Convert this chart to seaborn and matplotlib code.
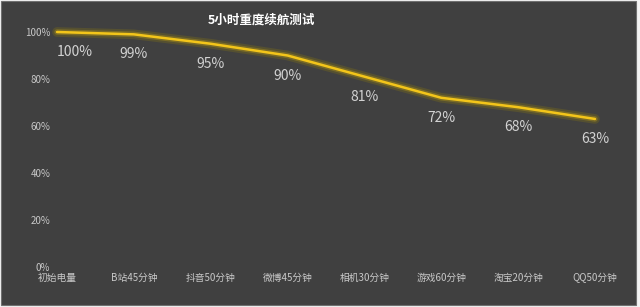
import numpy as np
import pandas as pd
import matplotlib
matplotlib.use("Agg")
import matplotlib.pyplot as plt
from matplotlib.patches import Rectangle
import seaborn as sns

# ---- data ----
stages = ["初始电量", "B站45分钟", "抖音50分钟", "微博45分钟", "相机30分钟", "游戏60分钟", "淘宝20分钟", "QQ50分钟"]
battery = [1.00, 0.99, 0.95, 0.90, 0.81, 0.72, 0.68, 0.63]
point_labels = ["100%", "99%", "95%", "90%", "81%", "72%", "68%", "63%"]
y_ticks = [0.0, 0.2, 0.4, 0.6, 0.8, 1.0]
y_tick_labels = ["0%", "20%", "40%", "60%", "80%", "100%"]
title = "5小时重度续航测试"

df = pd.DataFrame({"stage": stages, "battery": battery})

sns.set_theme(style="dark")
plt.rcParams["font.family"] = ["Noto Sans CJK SC", "DejaVu Sans"]
plt.rcParams["axes.unicode_minus"] = False

W, H = 640, 307
fig = plt.figure(figsize=(W / 100, H / 100), dpi=100)
fig.patch.set_facecolor("#f3f3f3")
fig.patches.append(Rectangle((1 / W, 2 / H), 635 / W, 304 / H, transform=fig.transFigure,
                             facecolor="#404040", edgecolor="#707070", lw=0.8, zorder=-5))

ax = fig.add_axes([53.2 / W, (H - 267) / H, (633.4 - 53.2) / W, 235 / H])
ax.set_facecolor("none")
for s in ax.spines.values():
    s.set_visible(False)

x = np.arange(len(stages))
# glow passes
sns.lineplot(x=x, y=battery, ax=ax, color="#6f6420", linewidth=7, alpha=0.45, clip_on=False)
sns.lineplot(x=x, y=battery, ax=ax, color="#958020", linewidth=4, alpha=0.6, clip_on=False)
sns.lineplot(x=x, y=battery, ax=ax, color="#f3c51a", linewidth=1.8, clip_on=False)

ax.set_xlim(-0.05, 7.5)
ax.set_ylim(0, 1)
ax.set_xticks(x)
ax.set_xticklabels(stages)
ax.set_yticks(y_ticks)
ax.set_yticklabels(y_tick_labels)
ax.tick_params(axis="both", length=0, labelsize=7, colors="#c8c8c8")
ax.tick_params(axis="y", pad=2.2)
ax.tick_params(axis="x", pad=4)
ax.set_xlabel("")
ax.set_ylabel("")
ax.grid(False)

for i, (v, lab) in enumerate(zip(battery, point_labels)):
    dx = 13 if i == 0 else 0
    ax.annotate(lab, (i, v), xytext=(dx, -14.5), textcoords="offset points",
                ha="center", va="center", fontsize=10, color="#d2d2d2")

fig.text(261 / W, 1 - 20 / H, title, ha="center", va="center", fontsize=9,
         fontweight="bold", color="#ffffff")

fig.savefig("out.png", dpi=100, facecolor=fig.get_facecolor())
